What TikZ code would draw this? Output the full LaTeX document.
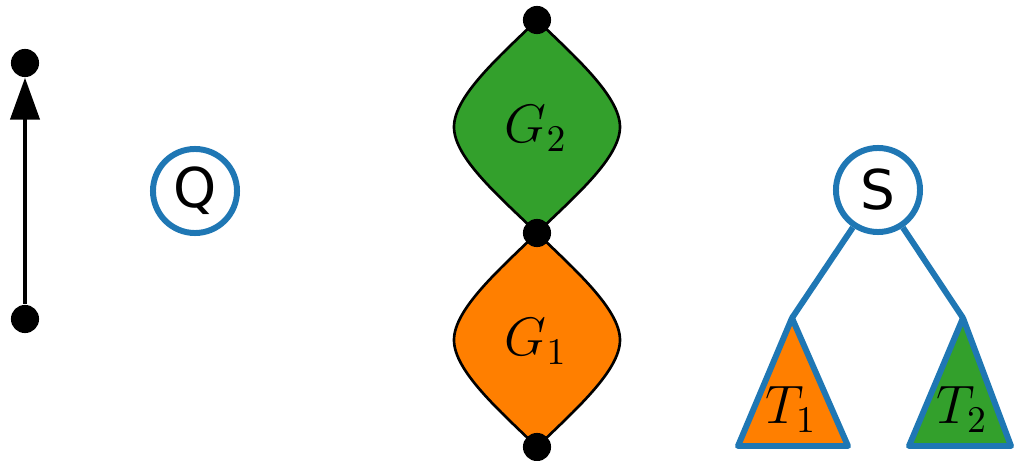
\documentclass[tikz,border=0pt]{standalone}
\usepackage{graphicx}
\usepackage{fontspec}
\newfontfamily\letterfont{DejaVu Sans}
\usetikzlibrary{arrows.meta}
\definecolor{edgeblue}{RGB}{31,119,180}
\definecolor{gfill}{RGB}{51,160,44}
\definecolor{ofill}{RGB}{255,127,0}
\newcommand{\piece}[1]{\scalebox{1.07}{$#1$}}

\begin{document}
\begin{tikzpicture}[x=0.01cm, y=-0.01cm,
    dot/.style={circle, fill=black, inner sep=0pt, minimum size=8pt},
    letter/.style={circle, draw=edgeblue, line width=1.7pt, inner sep=0pt,
      minimum size=23.9pt, font=\letterfont\fontsize{15.6}{18}\selectfont},
    blob/.style={draw=black, line width=0.75pt},
    tree/.style={draw=edgeblue, line width=1.7pt, line join=round},
    math/.style={font=\fontsize{14.4}{17}\selectfont, anchor=base},
    >={Triangle[length=11.9pt, width=8.3pt]}]
  \useasboundingbox (0,0) rectangle (1014,461);
  % arrow
  \node[dot] (low) at (25,319) {};
  \node[dot] (high) at (25,63) {};
  \draw[->, line width=1pt] (low) -- (high);
  \node[letter] (Q) at (195,191) {Q};
  % stacked pieces
  \filldraw[blob, fill=gfill] (537,20) .. controls (500,56) and (454,96) .. (454,127)
    .. controls (454,158) and (500,197) .. (537,233)
    .. controls (574,197) and (620,158) .. (620,127)
    .. controls (620,96) and (574,56) .. (537,20);
  \filldraw[blob, fill=ofill] (537,233) .. controls (500,269) and (454,309) .. (454,340)
    .. controls (454,371) and (500,411) .. (537,447)
    .. controls (574,411) and (620,371) .. (620,340)
    .. controls (620,309) and (574,269) .. (537,233);
  \node[dot] (top) at (537,20) {};
  \node[dot] (mid) at (537,233) {};
  \node[dot] (bot) at (537,447) {};
  \node[math] (G2) at (536,143) {\piece{G_2}};
  \node[math] (G1) at (536,356) {\piece{G_1}};
  % tree
  \node[letter] (S) at (878,190) {S};
  \coordinate (t1) at (792,318);
  \coordinate (t2) at (963,318);
  \draw[tree] (S) -- (t1);
  \draw[tree] (S) -- (t2);
  \filldraw[tree, fill=ofill] (t1) -- (738,446) -- (848,446) -- cycle;
  \filldraw[tree, fill=gfill] (t2) -- (909,446) -- (1011,446) -- cycle;
  \node[math] (T1) at (791,424) {\piece{T_1}};
  \node[math] (T2) at (962,424) {\piece{T_2}};
\end{tikzpicture}
\end{document}
